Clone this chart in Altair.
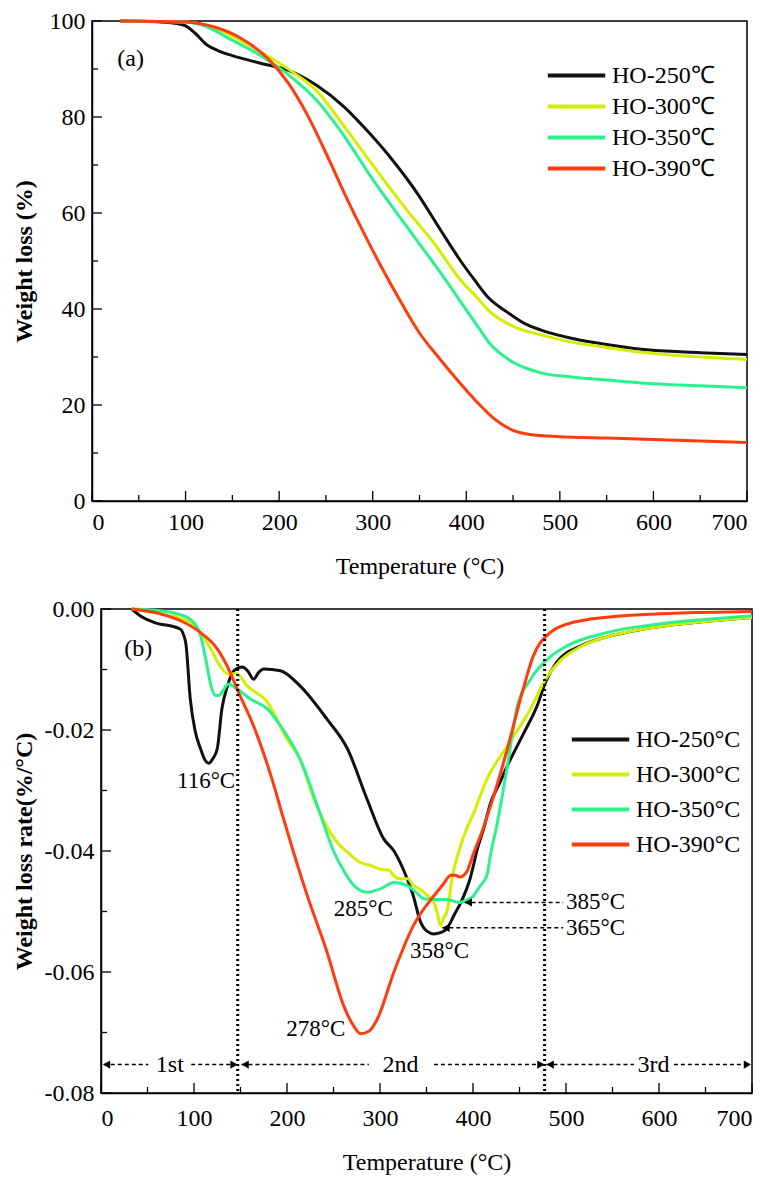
import altair as alt
import pandas as pd

FONT = "Liberation Serif"

# ---------------- Panel (a): TG curves ----------------
series_a = ["HO-250℃", "HO-300℃", "HO-350℃", "HO-390℃"]
series_b = ["HO-250°C", "HO-300°C", "HO-350°C", "HO-390°C"]
colors = ["#111111", "#d4ee00", "#2bf28c", "#ff3c0c"]

a250_T = [30, 60, 90, 100, 110, 123, 135, 150, 180, 210, 240, 270, 290, 320, 348, 373, 394, 409, 423, 444, 462, 480, 515, 550, 587, 650, 700]
a250_W = [100, 99.9, 99.5, 99.0, 97.5, 95.0, 93.8, 92.8, 91.2, 89.7, 86.6, 82.0, 78.0, 71.3, 64.0, 56.3, 50.0, 46.0, 42.5, 39.3, 37.0, 35.6, 33.8, 32.6, 31.6, 30.9, 30.5]

a300_T = [30, 100, 120, 145, 180, 215, 240, 266, 300, 337, 366, 394, 409, 426, 450, 480, 515, 550, 587, 650, 700]
a300_W = [100, 99.8, 99.2, 97.3, 93.6, 89.3, 85.5, 79.0, 70.0, 60.5, 53.6, 46.0, 42.9, 39.3, 36.4, 34.6, 33.0, 32.0, 31.0, 30.0, 29.5]

a350_T = [30, 100, 120, 145, 180, 215, 240, 266, 300, 337, 373, 401, 415, 426, 440, 451, 465, 480, 515, 550, 587, 650, 700]
a350_W = [100, 99.8, 99.0, 96.5, 92.8, 88.0, 83.5, 77.0, 67.0, 57.0, 47.4, 39.5, 35.6, 32.6, 30.2, 28.8, 27.6, 26.7, 25.8, 25.2, 24.6, 24.0, 23.6]

a390_T = [30, 100, 130, 160, 190, 210, 230, 250, 270, 290, 310, 330, 350, 370, 390, 410, 430, 450, 470, 500, 550, 600, 650, 700]
a390_W = [100, 99.8, 98.8, 96.3, 91.8, 87.0, 80.5, 72.5, 64.0, 56.0, 48.5, 41.5, 35.0, 30.0, 25.3, 20.9, 17.1, 14.7, 13.8, 13.4, 13.1, 12.8, 12.5, 12.2]

# ---------------- Panel (b): DTG curves ----------------
b250_T = [33, 42, 57, 85, 91, 96, 101, 107, 112, 116, 120, 125, 130, 136, 143, 152, 158, 164, 170, 175, 193, 214, 243, 265, 286, 304, 315, 329, 336, 343, 350, 358, 365, 372, 380, 387, 397, 405, 412, 419, 428, 437, 455, 469, 478, 490, 516, 544, 580, 634, 700]
b250_R = [0, -0.0011, -0.0022, -0.0033, -0.0055, -0.0149, -0.0200, -0.0231, -0.0250, -0.0255, -0.0248, -0.0231, -0.0165, -0.0127, -0.0102, -0.0096, -0.0103, -0.0116, -0.0104, -0.0099, -0.0102, -0.0127, -0.0182, -0.0231, -0.0314, -0.0380, -0.0400, -0.0445, -0.0475, -0.0515, -0.0532, -0.0537, -0.0535, -0.0528, -0.0505, -0.0485, -0.0445, -0.0395, -0.0360, -0.0320, -0.0290, -0.0259, -0.0204, -0.0160, -0.0121, -0.0088, -0.0061, -0.0046, -0.0034, -0.0023, -0.0014]

b300_T = [33, 64, 96, 107, 118, 128, 136, 146, 157, 179, 200, 214, 229, 243, 257, 265, 279, 290, 300, 310, 315, 322, 330, 336, 343, 350, 358, 362, 365, 368, 372, 378, 383, 394, 400, 415, 437, 462, 478, 494, 516, 544, 580, 634, 700]
b300_R = [0, -0.0008, -0.0022, -0.0039, -0.0066, -0.0094, -0.0107, -0.0107, -0.0127, -0.0154, -0.0215, -0.0248, -0.0314, -0.0360, -0.0391, -0.0402, -0.0419, -0.0424, -0.0430, -0.0432, -0.0441, -0.0446, -0.0446, -0.0457, -0.0463, -0.0472, -0.0485, -0.0505, -0.0523, -0.0512, -0.0500, -0.0440, -0.0410, -0.0360, -0.0340, -0.0281, -0.0226, -0.0165, -0.0116, -0.0085, -0.0062, -0.0046, -0.0034, -0.0023, -0.0014]

b350_T = [33, 64, 82, 96, 107, 114, 118, 123, 127, 130, 137, 146, 161, 179, 193, 214, 236, 250, 262, 272, 286, 300, 315, 329, 340, 347, 360, 372, 385, 392, 400, 408, 415, 419, 426, 437, 447, 462, 480, 501, 544, 598, 652, 700]
b350_R = [0, -0.0003, -0.0008, -0.0017, -0.0044, -0.0094, -0.0125, -0.0143, -0.0143, -0.0138, -0.0124, -0.0132, -0.0149, -0.0165, -0.0193, -0.0248, -0.0340, -0.0400, -0.0435, -0.0457, -0.0468, -0.0463, -0.0452, -0.0457, -0.0470, -0.0479, -0.0480, -0.0480, -0.0485, -0.0482, -0.0475, -0.0457, -0.0440, -0.0405, -0.0355, -0.0259, -0.0165, -0.0116, -0.0083, -0.0061, -0.0039, -0.0025, -0.0017, -0.0011]

b390_T = [33, 64, 85, 107, 125, 139, 148, 164, 186, 195, 207, 221, 243, 261, 272, 279, 288, 297, 315, 336, 358, 368, 376, 381, 386, 393, 401, 408, 419, 437, 451, 465, 483, 508, 562, 616, 700]
b390_R = [0, -0.0008, -0.0019, -0.0039, -0.0066, -0.0105, -0.0138, -0.0193, -0.0292, -0.0340, -0.0402, -0.0470, -0.0567, -0.0656, -0.0690, -0.0702, -0.0698, -0.0678, -0.0600, -0.0523, -0.0474, -0.0455, -0.0440, -0.0440, -0.0443, -0.0435, -0.0402, -0.0375, -0.0325, -0.0231, -0.0149, -0.0077, -0.0039, -0.0022, -0.0011, -0.0007, -0.0004]

# Stage boundaries, arrows and annotations in (b)
stage_bounds = [147, 477]
stage_names = ["1st", "2nd", "3rd"]
stage_text_T = [74, 322, 594]
stage_arrow_R = -0.0753
stage_seg_start = [3, 97, 151, 358, 479, 616]
stage_seg_end = [51, 145, 288, 476, 573, 698]
arrow_left_T = [6, 155, 483]
arrow_right_T = [143, 473, 695]

peak_labels = ["116°C", "285°C", "358°C", "278°C"]
peak_label_T = [113, 282, 364, 231]
peak_label_R = [-0.0284, -0.0496, -0.0565, -0.0694]

side_labels = ["385°C", "365°C"]
side_label_R = [-0.0485, -0.0527]
side_tip_T = [391, 367]
side_text_T = 500

# tick positions
x_ticks_major = [0, 100, 200, 300, 400, 500, 600, 700]
x_ticks_minor = [50, 150, 250, 350, 450, 550, 650]
ya_major = [0, 20, 40, 60, 80, 100]
ya_minor = [10, 30, 50, 70, 90]
yb_major = [0, -0.02, -0.04, -0.06, -0.08]
yb_minor = [-0.01, -0.03, -0.05, -0.07]

# ---------------- layout ----------------
WA, HA = 655, 480
WB, HB = 651, 484
LABEL_FS = 24
TITLE_FS = 24
MAJ_PX, MIN_PX = 10, 6


def frame(T, V, name, vcol):
    return pd.DataFrame({"T": T, vcol: V, "series": name})


df_a = pd.concat([
    frame(a250_T, a250_W, series_a[0], "W"),
    frame(a300_T, a300_W, series_a[1], "W"),
    frame(a350_T, a350_W, series_a[2], "W"),
    frame(a390_T, a390_W, series_a[3], "W"),
])
df_b = pd.concat([
    frame(b250_T, b250_R, series_b[0], "R"),
    frame(b300_T, b300_R, series_b[1], "R"),
    frame(b350_T, b350_R, series_b[2], "R"),
    frame(b390_T, b390_R, series_b[3], "R"),
])

xscale = alt.Scale(domain=[0, 700], nice=False, zero=False)
yscale_a = alt.Scale(domain=[0, 100], nice=False)
yscale_b = alt.Scale(domain=[-0.08, 0], nice=False, zero=False)

axis_common = dict(domainColor="black", domainWidth=1.5, grid=False, ticks=False,
                   labelColor="black", labelFontSize=LABEL_FS, labelFont=FONT,
                   titleFont=FONT, titleFontSize=TITLE_FS, titleColor="black")

X_a = alt.X("T:Q", scale=xscale, axis=alt.Axis(values=x_ticks_major, format="d", title="Temperature (°C)",
                                               labelPadding=9, titlePadding=20, titleFontWeight="normal", **axis_common))
Y_a = alt.Y("W:Q", scale=yscale_a, axis=alt.Axis(values=ya_major, format="d", title="Weight loss (%)",
                                                 labelPadding=7, titleX=-68, titleBaseline="middle",
                                                 titleFontWeight="bold", **axis_common))
X_b = alt.X("T:Q", scale=xscale, axis=alt.Axis(values=x_ticks_major, format="d", title="Temperature (°C)",
                                               labelPadding=13, titlePadding=20, titleFontWeight="normal", **axis_common))
Y_b = alt.Y("R:Q", scale=yscale_b, axis=alt.Axis(values=yb_major, title="Weight loss rate(%/°C)",
                                                 labelExpr="replace(format(datum.value, '.2f'), '\u2212', '-')",
                                                 labelPadding=7, titleX=-77, titleBaseline="middle",
                                                 titleFontWeight="bold", **axis_common))

LEG_SIZE = 825  # symbol box; the custom path spans twice its side


def legend(x, y, rowpad):
    return alt.Legend(title=None, orient="none", legendX=x, legendY=y, symbolType="M-2,0L2,0",
                      symbolSize=LEG_SIZE, symbolStrokeWidth=4, labelFontSize=24, labelFont=FONT,
                      labelColor="black", rowPadding=rowpad, labelOffset=19, labelLimit=0, padding=0)


lines_a = alt.Chart(df_a).mark_line(strokeWidth=3, interpolate="monotone").encode(
    x=X_a, y=Y_a,
    color=alt.Color("series:N", scale=alt.Scale(domain=series_a, range=colors), sort=series_a,
                    legend=legend(551, 38, 2)),
)


def xticks(vals, ylen, y0, X):
    df = pd.DataFrame({"T": vals})
    return alt.Chart(df).mark_rule(color="black", strokeWidth=1.3).encode(
        x=X, y=alt.datum(y0), y2=alt.datum(y0 + ylen))


def yticks(vals, xlen, Y, vcol):
    df = pd.DataFrame({vcol: vals})
    return alt.Chart(df).mark_rule(color="black", strokeWidth=1.3).encode(
        y=Y, x=alt.datum(0), x2=alt.datum(xlen))


ua = 100 / HA
ub = 0.08 / HB
ux_a = 700 / WA
ux_b = 700 / WB

ticks_a = [
    xticks(x_ticks_major, MAJ_PX * ua, 0, X_a),
    xticks(x_ticks_minor, MIN_PX * ua, 0, X_a),
    yticks(ya_major, MAJ_PX * ux_a, Y_a, "W"),
    yticks(ya_minor, MIN_PX * ux_a, Y_a, "W"),
]

label_a = alt.Chart(pd.DataFrame({"T": [27], "W": [92], "txt": ["(a)"]})).mark_text(
    align="left", baseline="middle", fontSize=24, font=FONT, color="black").encode(x=X_a, y=Y_a, text="txt:N")

panel_a = alt.layer(lines_a, *ticks_a, label_a).properties(width=WA, height=HA)

# ---------------- panel (b) ----------------
lines_b = alt.Chart(df_b).mark_line(strokeWidth=3, interpolate="monotone").encode(
    x=X_b, y=Y_b,
    color=alt.Color("series:N", scale=alt.Scale(domain=series_b, range=colors), sort=series_b,
                    legend=legend(575, 114, 6)),
)

ticks_b = [
    xticks(x_ticks_major, MAJ_PX * ub, -0.08, X_b),
    xticks(x_ticks_minor, MIN_PX * ub, -0.08, X_b),
    yticks(yb_major, MAJ_PX * ux_b, Y_b, "R"),
    yticks(yb_minor, MIN_PX * ux_b, Y_b, "R"),
]

bounds_b = alt.Chart(pd.DataFrame({"T": stage_bounds})).mark_rule(
    color="black", strokeWidth=3, strokeDash=[2, 3]).encode(x=X_b)

segs = pd.DataFrame({"T": stage_seg_start, "T2": stage_seg_end, "R": [stage_arrow_R] * len(stage_seg_start)})
segs_b = alt.Chart(segs).mark_rule(color="black", strokeWidth=1.5, strokeDash=[4, 3]).encode(
    x=X_b, x2="T2:Q", y=Y_b)

heads_l = alt.Chart(pd.DataFrame({"T": arrow_left_T, "R": [stage_arrow_R] * 3})).mark_point(
    shape="triangle-left", filled=True, color="black", size=70, opacity=1).encode(x=X_b, y=Y_b)
heads_r = alt.Chart(pd.DataFrame({"T": arrow_right_T, "R": [stage_arrow_R] * 3})).mark_point(
    shape="triangle-right", filled=True, color="black", size=70, opacity=1).encode(x=X_b, y=Y_b)

stage_txt = alt.Chart(pd.DataFrame({"T": stage_text_T, "R": [stage_arrow_R] * 3, "txt": stage_names})).mark_text(
    align="center", baseline="middle", fontSize=24, font=FONT, color="black").encode(x=X_b, y=Y_b, text="txt:N")

peak_txt = alt.Chart(pd.DataFrame({"T": peak_label_T, "R": peak_label_R, "txt": peak_labels})).mark_text(
    align="center", baseline="middle", fontSize=23, font=FONT, color="black").encode(x=X_b, y=Y_b, text="txt:N")

side_df = pd.DataFrame({"T": side_tip_T, "T2": [side_text_T - 3] * 2, "R": side_label_R,
                        "Tt": [side_text_T] * 2, "txt": side_labels})
side_segs = alt.Chart(side_df).mark_rule(color="black", strokeWidth=1.5, strokeDash=[4, 3]).encode(
    x=X_b, x2="T2:Q", y=Y_b)
side_heads = alt.Chart(side_df).transform_calculate(Th="datum.T + 4").mark_point(
    shape="triangle-left", filled=True, color="black", size=70, opacity=1).encode(
    x=alt.X("Th:Q", scale=xscale), y=Y_b)
side_txt = alt.Chart(side_df).mark_text(
    align="left", baseline="middle", fontSize=23, font=FONT, color="black").encode(
    x=alt.X("Tt:Q", scale=xscale), y=Y_b, text="txt:N")

label_b = alt.Chart(pd.DataFrame({"T": [25], "R": [-0.0066], "txt": ["(b)"]})).mark_text(
    align="left", baseline="middle", fontSize=24, font=FONT, color="black").encode(x=X_b, y=Y_b, text="txt:N")

panel_b = alt.layer(lines_b, *ticks_b, bounds_b, segs_b, heads_l, heads_r, stage_txt, peak_txt,
                    side_segs, side_heads, side_txt, label_b).properties(width=WB, height=HB)


def spacer():
    return alt.Chart(pd.DataFrame({"s": [0]})).mark_point(opacity=0, size=0, strokeWidth=0).encode(
        x=alt.value(0), y=alt.value(0)).properties(width=1, height=1,
                                                   view=alt.ViewBackground(stroke="transparent"))


row_a = alt.hconcat(spacer(), panel_a, spacing=0)
row_b = alt.hconcat(spacer(), panel_b, spacing=0)

chart = alt.vconcat(row_a, row_b, spacing=17).resolve_scale(
    color="independent"
).properties(padding={"left": 0, "top": 0, "right": 0, "bottom": 0}).configure(
    font=FONT
).configure_axis(labelFont=FONT, titleFont=FONT).configure_legend(labelFont=FONT).configure_view(
    stroke="black", strokeWidth=1.5)

chart.save("out.html", embed_options={"renderer": "svg", "actions": False})
